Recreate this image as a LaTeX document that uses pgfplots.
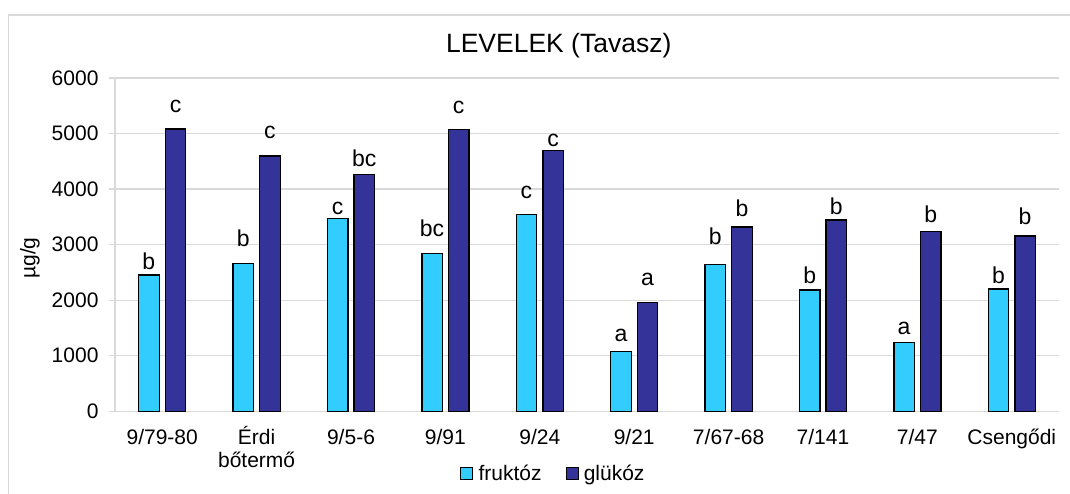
\documentclass[border=0pt]{standalone}
\usepackage{fontspec}
\setmainfont{Liberation Sans}
\usepackage{pgfplots}
\pgfplotsset{compat=1.18}
\usepackage{pgfplotstable}

\definecolor{fru}{HTML}{33CCFF}
\definecolor{glu}{HTML}{333399}
\definecolor{gridgray}{HTML}{D9D9D9}

\pgfplotsset{sqlegend/.style={legend image code/.code={%
  \draw[##1,/tikz/.cd,line width=1pt] (0pt,-6pt) rectangle (12pt,6pt);
  \path (15pt,0pt);}}}
% two-line tick label whose base is the first line
\newcommand{\twoline}[2]{\vtop{\hbox to 0pt{\hss#1\hss}\hbox to 0pt{\hss#2\hss}}}

% x fr gl: bar values; fry/gly: label baseline, frt/glt: label text
\pgfplotstableread{
x fr   gl   fry  frt gly  glt
0 2455 5080 2544 b   5383 c
1 2665 4597 2963 b   4902 c
2 3470 4264 3534 c   4403 bc
3 2845 5070 3143 bc  5364 c
4 3548 4690 3834 c   4763 c
5 1073 1956 1253 a   2256 a
6 2647 3318 3006 b   3510 b
7 2181 3445 2304 b   3534 b
8 1233 3242 1386 a   3398 b
9 2199 3155 2304 b   3363 b
}\data

\begin{document}
\begin{tikzpicture}
\useasboundingbox (0,0) rectangle (1070pt,494pt);
\draw[gridgray, line width=1.2pt] (8.5pt,-5pt) -- (8.5pt,479pt) -- (1080pt,479pt);
\begin{axis}[
  at={(115pt,82.7pt)}, anchor=south west,
  scale only axis, width=944pt, height=333.3pt,
  xmin=-0.5, xmax=9.5, ymin=0, ymax=6000,
  xtick={0,...,9},
  xticklabels={9/79-80, \twoline{Érdi}{bőtermő}, 9/5-6, 9/91, 9/24, 9/21, 7/67-68, 7/141, 7/47, Csengődi},
  ytick={0,1000,...,6000},
  ymajorgrids, grid style={gridgray, line width=1.2pt},
  axis x line*=bottom, axis y line*=left,
  axis line style={gridgray, line width=1.2pt},
  x tick style={draw=none}, y tick style={gridgray, line width=1.2pt},
  tick align=outside, major tick length=6pt,
  tick label style={font=\fontsize{21}{23}\selectfont},
  /pgf/number format/assume math mode=true,
  /pgf/number format/1000 sep={},
  scaled ticks=false,
  xticklabel style={anchor=base, yshift=-27pt},
  yticklabel style={xshift=-7pt},
  title={LEVELEK (Tavasz)},
  title style={at={(0.470,1.057)}, anchor=base, yshift=0pt, font=\fontsize{26.5}{30}\selectfont},
  ylabel={µg/g},
  every axis y label/.style={at={(-0.090,0.46)}, rotate=90, anchor=center, font=\fontsize{21}{25}\selectfont},
  legend style={at={(0.4645,-0.186)}, anchor=center, draw=none, fill=none,
    font=\fontsize{21}{25}\selectfont, legend columns=2,
    /tikz/every even column/.append style={column sep=22pt}},
  legend cell align=left,
  clip=false,
]
\addplot[ybar, bar width=20.5pt, bar shift=-13.3pt, fill=fru, draw=black, line width=1.3pt, sqlegend]
  table[x=x, y=fr] {\data};
\addlegendentry{fruktóz}
\addplot[ybar, bar width=20.5pt, bar shift=13.3pt, fill=glu, draw=black, line width=1.3pt, sqlegend]
  table[x=x, y=gl] {\data};
\addlegendentry{glükóz}
\addplot[draw=none, mark=none, forget plot, nodes near coords, point meta=explicit symbolic,
  every node near coord/.append style={anchor=base, inner sep=0pt, font=\fontsize{23}{26}\selectfont}]
  table[x expr=\thisrow{x}-0.141, y=fry, meta=frt] {\data};
\addplot[draw=none, mark=none, forget plot, nodes near coords, point meta=explicit symbolic,
  every node near coord/.append style={anchor=base, inner sep=0pt, font=\fontsize{23}{26}\selectfont}]
  table[x expr=\thisrow{x}+0.141, y=gly, meta=glt] {\data};
\end{axis}
\end{tikzpicture}
\end{document}
